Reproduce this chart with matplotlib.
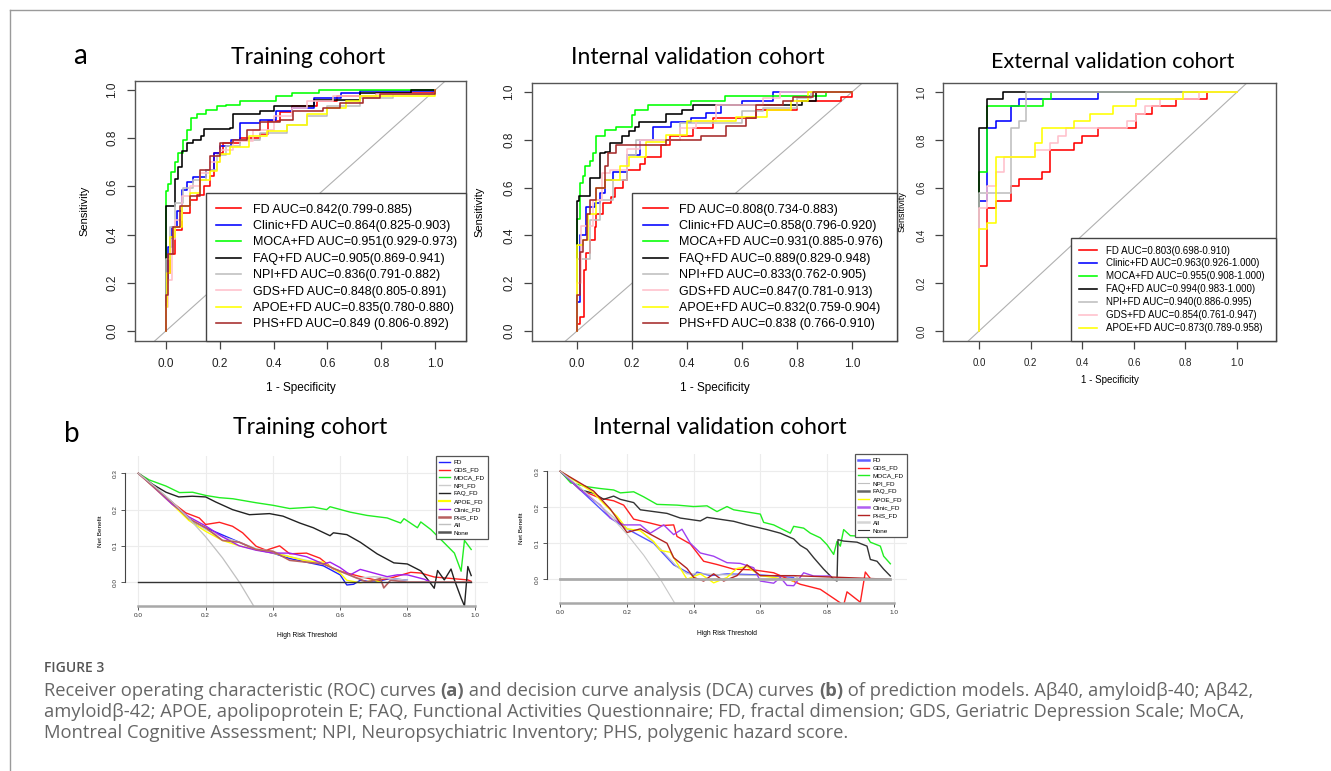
import matplotlib
matplotlib.use("Agg")
import matplotlib.pyplot as plt
from matplotlib.lines import Line2D

W, H = 1331, 771
RFONT = "Liberation Sans"
TFONT = "Lato"
CFONT = "Open Sans"

# ---------------- data ----------------
models = ["FD", "Clinic+FD", "MOCA+FD", "FAQ+FD", "NPI+FD", "GDS+FD", "APOE+FD", "PHS+FD"]
roc_colors = ["#ff0000", "#0000ff", "#00ff00", "#000000", "#bebebe", "#ffc0cb", "#ffff00", "#a52a2a"]
auc_tr = ["0.842(0.799-0.885)", "0.864(0.825-0.903)", "0.951(0.929-0.973)", "0.905(0.869-0.941)",
          "0.836(0.791-0.882)", "0.848(0.805-0.891)", "0.835(0.780-0.880)", "0.849 (0.806-0.892)"]
auc_in = ["0.808(0.734-0.883)", "0.858(0.796-0.920)", "0.931(0.885-0.976)", "0.889(0.829-0.948)",
          "0.833(0.762-0.905)", "0.847(0.781-0.913)", "0.832(0.759-0.904)", "0.838 (0.766-0.910)"]
auc_ex = ["0.803(0.698-0.910)", "0.963(0.926-1.000)", "0.955(0.908-1.000)", "0.994(0.983-1.000)",
          "0.940(0.886-0.995)", "0.854(0.761-0.947)", "0.873(0.789-0.958)"]

# Training ROC (1-specificity, sensitivity)
tr_fd_x = [0, 0, 0.005, 0.015, 0.033, 0.058, 0.09, 0.114, 0.14, 0.164, 0.18, 0.213, 0.275, 0.35, 0.38, 0.424, 0.47, 0.56, 0.634, 0.78, 1.0]
tr_fd_y = [0, 0.12, 0.24, 0.32, 0.42, 0.49, 0.545, 0.566, 0.6, 0.642, 0.74, 0.78, 0.80, 0.816, 0.87, 0.908, 0.933, 0.954, 0.975, 0.989, 1.0]
tr_clin_x = [0, 0, 0.009, 0.021, 0.04, 0.058, 0.077, 0.1, 0.15, 0.18, 0.2, 0.24, 0.275, 0.35, 0.41, 0.47, 0.55, 0.65, 0.72, 1.0]
tr_clin_y = [0, 0.2, 0.35, 0.43, 0.50, 0.587, 0.62, 0.64, 0.67, 0.74, 0.77, 0.795, 0.864, 0.878, 0.913, 0.927, 0.968, 0.99, 0.996, 1.0]
tr_moca_x = [0, 0, 0.009, 0.02, 0.033, 0.046, 0.064, 0.077, 0.093, 0.114, 0.15, 0.19, 0.225, 0.275, 0.325, 0.41, 0.47, 0.57, 1.0]
tr_moca_y = [0, 0.58, 0.61, 0.66, 0.70, 0.74, 0.795, 0.836, 0.885, 0.90, 0.917, 0.933, 0.94, 0.954, 0.957, 0.975, 0.99, 1.0, 1.0]
tr_faq_x = [0, 0, 0.015, 0.033, 0.045, 0.058, 0.077, 0.10, 0.13, 0.14, 0.238, 0.25, 0.35, 0.40, 0.55, 0.72, 0.91, 1.0]
tr_faq_y = [0, 0.52, 0.52, 0.63, 0.68, 0.746, 0.78, 0.795, 0.81, 0.84, 0.843, 0.90, 0.913, 0.936, 0.96, 0.99, 1.0, 1.0]
tr_npi_x = [0, 0, 0.015, 0.033, 0.064, 0.1, 0.15, 0.19, 0.225, 0.275, 0.35, 0.45, 0.523, 0.6, 0.72, 0.845, 1.0]
tr_npi_y = [0, 0.3, 0.43, 0.53, 0.594, 0.628, 0.67, 0.73, 0.767, 0.795, 0.822, 0.857, 0.892, 0.933, 0.968, 0.982, 1.0]
tr_gds_x = [0, 0, 0.009, 0.021, 0.033, 0.058, 0.09, 0.126, 0.164, 0.2, 0.25, 0.325, 0.4, 0.47, 0.523, 0.622, 0.78, 1.0]
tr_gds_y = [0, 0.1, 0.21, 0.38, 0.46, 0.56, 0.6, 0.656, 0.70, 0.753, 0.788, 0.836, 0.892, 0.927, 0.954, 0.975, 0.982, 1.0]
tr_apoe_x = [0, 0, 0.005, 0.015, 0.033, 0.058, 0.09, 0.126, 0.164, 0.19, 0.2, 0.238, 0.31, 0.374, 0.45, 0.523, 0.6, 0.67, 0.72, 1.0]
tr_apoe_y = [0, 0.1, 0.24, 0.39, 0.43, 0.517, 0.573, 0.628, 0.663, 0.70, 0.735, 0.764, 0.809, 0.83, 0.857, 0.90, 0.927, 0.954, 0.975, 1.0]
tr_phs_x = [0, 0, 0.009, 0.027, 0.052, 0.09, 0.126, 0.164, 0.2, 0.25, 0.3, 0.35, 0.424, 0.473, 0.585, 0.647, 0.734, 0.796, 1.0]
tr_phs_y = [0, 0.15, 0.32, 0.43, 0.517, 0.56, 0.67, 0.725, 0.78, 0.795, 0.836, 0.867, 0.878, 0.913, 0.927, 0.947, 0.968, 0.986, 1.0]

# Internal validation ROC
in_fd_x = [0, 0, 0.01, 0.025, 0.032, 0.046, 0.064, 0.07, 0.094, 0.125, 0.137, 0.167, 0.18, 0.228, 0.246, 0.306, 0.337, 0.42, 0.495, 0.652, 0.8, 0.96, 1.0]
in_fd_y = [0, 0.03, 0.06, 0.255, 0.325, 0.38, 0.437, 0.49, 0.535, 0.56, 0.598, 0.633, 0.675, 0.70, 0.73, 0.78, 0.815, 0.85, 0.89, 0.926, 0.961, 0.98, 1.0]
in_clin_x = [0, 0, 0.01, 0.034, 0.064, 0.082, 0.1, 0.13, 0.18, 0.228, 0.276, 0.343, 0.416, 0.47, 0.525, 0.6, 0.713, 1.0]
in_clin_y = [0, 0.12, 0.4, 0.52, 0.535, 0.577, 0.63, 0.667, 0.737, 0.80, 0.853, 0.873, 0.89, 0.912, 0.944, 0.964, 1.0, 1.0]
in_moca_x = [0, 0, 0.01, 0.022, 0.03, 0.046, 0.058, 0.068, 0.1, 0.143, 0.2, 0.21, 0.258, 0.416, 0.537, 0.907, 1.0]
in_moca_y = [0, 0.47, 0.62, 0.65, 0.69, 0.71, 0.744, 0.817, 0.84, 0.853, 0.905, 0.926, 0.944, 0.964, 0.982, 1.0, 1.0]
in_faq_x = [0, 0, 0.007, 0.046, 0.085, 0.1, 0.119, 0.165, 0.19, 0.21, 0.225, 0.325, 0.38, 0.42, 0.8, 0.82, 0.87, 1.0]
in_faq_y = [0, 0.546, 0.566, 0.64, 0.744, 0.75, 0.786, 0.818, 0.835, 0.853, 0.874, 0.909, 0.926, 0.947, 0.947, 0.964, 1.0, 1.0]
in_npi_x = [0, 0, 0.046, 0.082, 0.13, 0.18, 0.216, 0.373, 0.55, 0.6, 0.676, 0.8, 0.85, 1.0]
in_npi_y = [0, 0.3, 0.465, 0.55, 0.63, 0.737, 0.80, 0.87, 0.87, 0.92, 0.933, 0.975, 1.0, 1.0]
in_gds_x = [0, 0, 0.016, 0.058, 0.089, 0.119, 0.18, 0.228, 0.29, 0.373, 0.434, 0.507, 0.676, 0.74, 1.0]
in_gds_y = [0, 0.2, 0.44, 0.55, 0.66, 0.675, 0.76, 0.80, 0.80, 0.85, 0.877, 0.947, 0.975, 1.0, 1.0]
in_apoe_x = [0, 0, 0.0, 0.022, 0.04, 0.07, 0.1, 0.155, 0.19, 0.25, 0.325, 0.4, 0.58, 0.69, 0.78, 0.84, 1.0]
in_apoe_y = [0, 0.2, 0.36, 0.38, 0.49, 0.6, 0.63, 0.69, 0.73, 0.79, 0.82, 0.877, 0.894, 0.926, 0.961, 1.0, 1.0]
in_phs_x = [0, 0, 0.01, 0.022, 0.036, 0.046, 0.07, 0.1, 0.113, 0.143, 0.3, 0.325, 0.452, 0.543, 0.616, 0.65, 0.75, 0.785, 0.858, 1.0]
in_phs_y = [0, 0.15, 0.33, 0.38, 0.49, 0.55, 0.6, 0.69, 0.744, 0.78, 0.78, 0.8, 0.818, 0.856, 0.89, 0.947, 0.961, 0.98, 1.0, 1.0]

# External validation ROC
ex_fd_x = [0, 0, 0.031, 0.065, 0.125, 0.155, 0.245, 0.276, 0.367, 0.4, 0.461, 0.61, 0.67, 0.765, 0.884, 1.0]
ex_fd_y = [0, 0.272, 0.514, 0.546, 0.605, 0.636, 0.667, 0.758, 0.786, 0.817, 0.85, 0.909, 0.94, 0.97, 1.0, 1.0]
ex_clin_x = [0, 0, 0.031, 0.065, 0.125, 0.155, 0.461, 1.0]
ex_clin_y = [0, 0.546, 0.85, 0.88, 0.94, 0.97, 1.0, 1.0]
ex_moca_x = [0, 0, 0.031, 0.248, 0.28, 1.0]
ex_moca_y = [0, 0.667, 0.94, 0.97, 1.0, 1.0]
ex_faq_x = [0, 0, 0, 0.031, 0.093, 1.0]
ex_faq_y = [0, 0.58, 0.85, 0.97, 1.0, 1.0]
ex_npi_x = [0, 0, 0.125, 0.155, 0.183, 1.0]
ex_npi_y = [0, 0.577, 0.85, 0.88, 1.0, 1.0]
ex_gds_x = [0, 0, 0, 0.031, 0.065, 0.096, 0.216, 0.276, 0.306, 0.338, 0.574, 0.61, 0.642, 0.7, 0.853, 1.0]
ex_gds_y = [0, 0.427, 0.514, 0.605, 0.667, 0.727, 0.758, 0.786, 0.817, 0.85, 0.88, 0.909, 0.94, 0.97, 1.0, 1.0]
ex_apoe_x = [0, 0, 0.031, 0.065, 0.216, 0.245, 0.367, 0.43, 0.52, 0.61, 0.79, 1.0]
ex_apoe_y = [0, 0.427, 0.454, 0.727, 0.786, 0.85, 0.88, 0.909, 0.94, 0.97, 1.0, 1.0]

# DCA
dca_names = ["FD", "GDS_FD", "MOCA_FD", "NPI_FD", "FAQ_FD", "APOE_FD", "Clinic_FD", "PHS_FD", "All", "None"]
# colours/widths of the drawn curves
dca_tr_colors = ["#2020ff", "#ff2020", "#22ee22", "#c8c8c8", "#222222", "#ffff00", "#a020f0", "#b86060", "#c0c0c0", "#333333"]
dca_tr_widths = [1.0, 1.0, 1.0, 1.0, 1.0, 1.0, 1.0, 1.2, 0.9, 1.0]
dca_in_colors = ["#5555ff", "#ff2020", "#22ee22", "#c0c0c0", "#333333", "#ffff00", "#a040f0", "#b22222", "#c8c8c8", "#aaaaaa"]
dca_in_widths = [1.0, 1.0, 1.0, 0.8, 1.0, 1.0, 1.0, 1.0, 0.8, 2.0]
# colours/widths shown in the legends
leg_tr_colors = ["#2020ff", "#ff2020", "#22ee22", "#cccccc", "#222222", "#ffff00", "#a020f0", "#b86060", "#c0c0c0", "#555555"]
leg_tr_widths = [1.0, 1.0, 1.0, 1.0, 1.0, 1.6, 1.0, 1.8, 1.0, 1.8]
leg_in_colors = ["#6060ff", "#ff2020", "#22ee22", "#c0c0c0", "#666666", "#ffff00", "#b060f0", "#b22222", "#d5d5d5", "#333333"]
leg_in_widths = [1.8, 1.0, 1.0, 0.8, 1.8, 1.0, 1.8, 1.0, 1.8, 0.8]

all_x = [0, 0.05, 0.1, 0.15, 0.2, 0.25, 0.3, 0.35]
all_y = [0.3, 0.263, 0.222, 0.176, 0.125, 0.067, 0.0, -0.077]
none_x = [0, 0.99]
none_y = [0, 0]

dtr_fd_x = [0, 0.05, 0.1, 0.16, 0.2, 0.25, 0.3, 0.35, 0.4, 0.45, 0.5, 0.55, 0.6, 0.62, 0.64, 0.66, 0.7, 0.75, 0.8]
dtr_fd_y = [0.3, 0.26, 0.22, 0.165, 0.15, 0.13, 0.11, 0.09, 0.08, 0.065, 0.055, 0.045, 0.02, -0.008, -0.006, 0.005, 0.0, 0.01, 0.005]
dtr_gds_x = [0, 0.082, 0.141, 0.181, 0.2, 0.241, 0.28, 0.31, 0.35, 0.38, 0.42, 0.45, 0.5, 0.54, 0.58, 0.62, 0.67, 0.71, 0.75, 0.81, 0.84, 0.88, 0.98, 0.99]
dtr_gds_y = [0.3, 0.233, 0.191, 0.177, 0.159, 0.165, 0.154, 0.136, 0.099, 0.088, 0.1, 0.078, 0.08, 0.066, 0.036, 0.025, 0.013, 0.005, 0.011, 0.027, 0.025, 0.014, 0.006, 0.002]
dtr_moca_x = [0, 0.032, 0.082, 0.122, 0.161, 0.201, 0.241, 0.281, 0.35, 0.4, 0.45, 0.52, 0.56, 0.57, 0.63, 0.68, 0.74, 0.78, 0.79, 0.83, 0.84, 0.87, 0.91, 0.94, 0.96, 0.97, 0.99]
dtr_moca_y = [0.3, 0.282, 0.265, 0.247, 0.248, 0.239, 0.233, 0.23, 0.219, 0.212, 0.203, 0.207, 0.2, 0.208, 0.193, 0.184, 0.177, 0.163, 0.175, 0.15, 0.166, 0.145, 0.108, 0.08, 0.03, 0.115, 0.09]
dtr_npi_x = [0, 0.1, 0.15, 0.2, 0.25, 0.3, 0.35, 0.4, 0.45, 0.5, 0.55, 0.6, 0.65, 0.7, 0.75, 0.8]
dtr_npi_y = [0.3, 0.22, 0.175, 0.145, 0.125, 0.11, 0.092, 0.085, 0.07, 0.06, 0.05, 0.03, 0.01, 0.015, 0.01, 0.005]
dtr_faq_x = [0, 0.042, 0.082, 0.12, 0.16, 0.2, 0.23, 0.28, 0.33, 0.39, 0.43, 0.48, 0.52, 0.57, 0.58, 0.62, 0.66, 0.71, 0.76, 0.8, 0.84, 0.86, 0.88, 0.89, 0.91, 0.93, 0.94, 0.96, 0.97, 0.98, 0.99]
dtr_faq_y = [0.3, 0.27, 0.248, 0.235, 0.237, 0.235, 0.221, 0.2, 0.186, 0.189, 0.182, 0.163, 0.15, 0.128, 0.136, 0.131, 0.11, 0.078, 0.053, 0.05, 0.031, 0.008, -0.017, 0.032, 0.006, 0.036, 0.006, -0.044, -0.066, 0.043, 0.018]
dtr_apoe_x = [0, 0.1, 0.15, 0.2, 0.25, 0.3, 0.35, 0.4, 0.45, 0.5, 0.55, 0.6, 0.62, 0.66, 0.7, 0.72]
dtr_apoe_y = [0.3, 0.215, 0.17, 0.14, 0.115, 0.1, 0.09, 0.08, 0.07, 0.058, 0.055, 0.025, 0.005, -0.002, 0.005, 0.0]
dtr_clin_x = [0, 0.05, 0.1, 0.15, 0.18, 0.2, 0.25, 0.3, 0.35, 0.4, 0.45, 0.5, 0.55, 0.57, 0.6, 0.63, 0.66, 0.7, 0.74, 0.77, 0.8, 0.85, 0.87]
dtr_clin_y = [0.3, 0.258, 0.215, 0.18, 0.165, 0.155, 0.125, 0.1, 0.088, 0.08, 0.08, 0.07, 0.05, 0.055, 0.04, 0.02, 0.035, 0.025, 0.015, 0.02, 0.02, 0.008, 0.0]
dtr_phs_x = [0, 0.1, 0.15, 0.2, 0.25, 0.3, 0.35, 0.4, 0.45, 0.5, 0.55, 0.6, 0.64, 0.68, 0.72, 0.73, 0.75, 0.8, 0.99]
dtr_phs_y = [0.3, 0.22, 0.175, 0.15, 0.115, 0.11, 0.09, 0.085, 0.06, 0.055, 0.05, 0.03, 0.015, 0.0, 0.01, -0.016, 0.005, 0.0, 0.0]

din_fd_x = [0, 0.15, 0.2, 0.28, 0.34, 0.4, 0.41, 0.45, 0.5, 0.6, 0.7]
din_fd_y = [0.3, 0.17, 0.14, 0.1, 0.04, 0.01, 0.02, 0.01, 0.015, 0.012, 0.005]
din_gds_x = [0, 0.061, 0.12, 0.16, 0.19, 0.22, 0.27, 0.3, 0.34, 0.35, 0.39, 0.43, 0.47, 0.52, 0.58, 0.64, 0.68, 0.72, 0.78, 0.82, 0.85, 0.86, 0.9, 0.915, 0.93]
din_gds_y = [0.3, 0.248, 0.225, 0.218, 0.206, 0.167, 0.156, 0.149, 0.151, 0.119, 0.098, 0.05, 0.041, 0.028, 0.026, 0.018, 0.002, -0.014, -0.028, -0.053, -0.072, -0.035, -0.064, 0.02, 0.002]
din_moca_x = [0, 0.031, 0.081, 0.12, 0.16, 0.18, 0.22, 0.25, 0.29, 0.35, 0.4, 0.44, 0.47, 0.5, 0.52, 0.6, 0.61, 0.64, 0.69, 0.7, 0.73, 0.75, 0.78, 0.8, 0.82, 0.83, 0.84, 0.85, 0.87, 0.92, 0.93, 0.96, 0.97, 0.99]
din_moca_y = [0.3, 0.268, 0.257, 0.252, 0.248, 0.24, 0.243, 0.229, 0.208, 0.206, 0.202, 0.204, 0.188, 0.202, 0.193, 0.181, 0.158, 0.151, 0.128, 0.147, 0.142, 0.128, 0.115, 0.096, 0.069, 0.105, 0.092, 0.138, 0.121, 0.119, 0.103, 0.092, 0.064, 0.043]
din_npi_x = [0, 0.15, 0.2, 0.24, 0.3, 0.35, 0.38, 0.43, 0.5, 0.6, 0.7, 0.72]
din_npi_y = [0.3, 0.18, 0.14, 0.135, 0.085, 0.035, 0.015, 0.015, 0.012, 0.01, 0.01, 0.0]
din_faq_x = [0, 0.031, 0.061, 0.1, 0.13, 0.16, 0.18, 0.22, 0.24, 0.28, 0.32, 0.36, 0.42, 0.44, 0.52, 0.56, 0.62, 0.66, 0.7, 0.72, 0.74, 0.76, 0.79, 0.82, 0.83, 0.833, 0.85, 0.89, 0.92, 0.93, 0.95, 0.97, 0.99]
din_faq_y = [0.3, 0.275, 0.248, 0.239, 0.222, 0.231, 0.222, 0.213, 0.193, 0.188, 0.183, 0.17, 0.162, 0.172, 0.161, 0.151, 0.138, 0.128, 0.112, 0.094, 0.083, 0.06, 0.028, 0.0, -0.005, 0.11, 0.106, 0.103, 0.092, 0.055, 0.05, 0.028, 0.009]
din_apoe_x = [0, 0.1, 0.13, 0.17, 0.2, 0.24, 0.28, 0.3, 0.33, 0.36, 0.38, 0.42, 0.46, 0.5, 0.53, 0.56, 0.6, 0.68, 0.7]
din_apoe_y = [0.3, 0.24, 0.21, 0.175, 0.14, 0.135, 0.105, 0.08, 0.075, 0.03, 0.0, 0.015, -0.01, 0.005, 0.03, 0.035, 0.01, 0.0, -0.005]
din_clin_x = [0, 0.061, 0.12, 0.15, 0.19, 0.24, 0.27, 0.31, 0.34, 0.365, 0.39, 0.42, 0.46, 0.5, 0.54, 0.58, 0.6, 0.64, 0.66, 0.68, 0.7, 0.73, 0.76, 0.81]
din_clin_y = [0.3, 0.248, 0.206, 0.17, 0.151, 0.151, 0.128, 0.151, 0.124, 0.139, 0.1, 0.073, 0.064, 0.046, 0.044, 0.032, -0.005, -0.011, 0.005, -0.017, -0.018, 0.018, 0.009, 0.009]
din_phs_x = [0, 0.1, 0.15, 0.2, 0.24, 0.28, 0.3, 0.32, 0.34, 0.38, 0.4, 0.43, 0.46, 0.49, 0.53, 0.56, 0.6, 0.7, 0.99]
din_phs_y = [0.3, 0.245, 0.195, 0.13, 0.14, 0.12, 0.11, 0.1, 0.06, 0.03, 0.005, -0.005, 0.015, -0.005, 0.01, 0.04, 0.01, 0.01, 0.0]

roc_tick_vals = [0.0, 0.2, 0.4, 0.6, 0.8, 1.0]
roc_tick_labels = ["0.0", "0.2", "0.4", "0.6", "0.8", "1.0"]
dca_xtick_vals = [0.0, 0.2, 0.4, 0.6, 0.8, 1.0]
dca_ytick_vals = [0.0, 0.1, 0.2, 0.3]

# ---------------- figure ----------------
fig = plt.figure(figsize=(W / 100, H / 100), dpi=100)


def add_ax(l, t, r, b):
    return fig.add_axes([l / W, 1 - b / H, (r - l) / W, (b - t) / H])


def ftext(x, y, s, **kw):
    return fig.text(x / W, 1 - y / H, s, **kw)


# frame lines
fig.add_artist(Line2D([10 / W, 1], [1 - 10 / H, 1 - 10 / H], color="#9a9a9a", lw=1.0))
fig.add_artist(Line2D([10 / W, 10 / W], [1 - 10 / H, 0], color="#9a9a9a", lw=1.0))


def roc_panel(box, xlim, curves, labels, fs_tick, fs_lab, fs_leg, leg_x0, leg_pad, leg_space,
              ylab_x, xlab_y, handlelen):
    ax = add_ax(*box)
    ax.plot([-2, 3], [-2, 3], color="#b0b0b0", lw=0.8, zorder=1)
    for (xs, ys), col, lab in zip(curves, roc_colors, labels):
        ax.plot(xs, ys, drawstyle="steps-post", color=col, lw=1.15, label=lab, zorder=2)
    ax.set_xlim(*xlim)
    ax.set_ylim(-0.042, 1.038)
    ax.set_xticks(roc_tick_vals)
    ax.set_xticklabels(roc_tick_labels, fontsize=fs_tick, family=RFONT, color="#222222")
    ax.set_yticks(roc_tick_vals)
    ax.set_yticklabels(roc_tick_labels, fontsize=fs_tick, family=RFONT, color="#222222",
                       rotation=90, va="center", ha="right")
    ax.tick_params(direction="out", length=6, width=0.9, color="#444444", pad=6)
    for sp in ax.spines.values():
        sp.set_color("#555555")
        sp.set_linewidth(1.0)
    ax.set_ylabel("Sensitivity", fontsize=fs_lab, family=RFONT)
    ax.yaxis.set_label_coords(ylab_x, 0.5)
    ax.set_xlabel("1 - Specificity", fontsize=fs_lab + 0.5, family=RFONT)
    ax.xaxis.set_label_coords(0.5, xlab_y)
    leg = ax.legend(loc="lower left", bbox_to_anchor=(leg_x0, 0, 1 - leg_x0, 1), mode="expand",
                    borderaxespad=0, fancybox=False, edgecolor="#444444", framealpha=1,
                    prop={"family": RFONT, "size": fs_leg}, borderpad=leg_pad,
                    labelspacing=leg_space, handlelength=handlelen, handletextpad=0.9)
    leg.get_frame().set_linewidth(1.0)
    leg.set_zorder(5)
    return ax


tr_curves = [(tr_fd_x, tr_fd_y), (tr_clin_x, tr_clin_y), (tr_moca_x, tr_moca_y), (tr_faq_x, tr_faq_y),
             (tr_npi_x, tr_npi_y), (tr_gds_x, tr_gds_y), (tr_apoe_x, tr_apoe_y), (tr_phs_x, tr_phs_y)]
in_curves = [(in_fd_x, in_fd_y), (in_clin_x, in_clin_y), (in_moca_x, in_moca_y), (in_faq_x, in_faq_y),
             (in_npi_x, in_npi_y), (in_gds_x, in_gds_y), (in_apoe_x, in_apoe_y), (in_phs_x, in_phs_y)]
ex_curves = [(ex_fd_x, ex_fd_y), (ex_clin_x, ex_clin_y), (ex_moca_x, ex_moca_y), (ex_faq_x, ex_faq_y),
             (ex_npi_x, ex_npi_y), (ex_gds_x, ex_gds_y), (ex_apoe_x, ex_apoe_y)]

roc_panel((135, 81, 466, 341), (-0.115, 1.115), tr_curves,
          [f"{m} AUC={a}" for m, a in zip(models, auc_tr)],
          8.5, 8, 9, 0.2136, 0.85, 0.35, -0.136, -0.158, 2.0)
roc_panel((532, 83, 897, 341), (-0.164, 1.164), in_curves,
          [f"{m} AUC={a}" for m, a in zip(models, auc_in)],
          8.5, 8, 9, 0.274, 0.85, 0.35, -0.129, -0.158, 2.0)
roc_panel((943, 83, 1276, 341), (-0.14, 1.151), ex_curves,
          [f"{m} AUC={a}" for m, a in zip(models, auc_ex)],
          7, 6.5, 7, 0.384, 0.82, 0.3, -0.108, -0.13, 1.85)


def dca_panel(box, curves, colors, widths, lcolors, lwidths, ylab_x, xlab_y):
    ax = add_ax(*box)
    for v in dca_xtick_vals:
        ax.axvline(v, color="#ececec", lw=0.8, zorder=0)
    for v in dca_ytick_vals:
        ax.axhline(v, color="#ececec", lw=0.8, zorder=0)
    for (xs, ys), col, lw in zip(curves, colors, widths):
        ax.plot(xs, ys, color=col, lw=lw, zorder=2)
    ax.set_xlim(-0.04, 1.04)
    ax.set_ylim(-0.066, 0.348)
    ax.set_xticks(dca_xtick_vals)
    ax.set_xticklabels([f"{v:.1f}" for v in dca_xtick_vals], fontsize=4.6, family=RFONT, color="#333333")
    ax.set_yticks(dca_ytick_vals)
    ax.set_yticklabels([f"{v:.1f}" for v in dca_ytick_vals], fontsize=4.6, family=RFONT, color="#333333",
                       rotation=90, va="center", ha="right")
    ax.tick_params(direction="out", length=3, width=0.7, color="#555555", pad=2)
    ax.spines["top"].set_visible(False)
    ax.spines["right"].set_visible(False)
    ax.spines["left"].set_bounds(0, 0.3)
    ax.spines["left"].set_color("#444444")
    ax.spines["left"].set_linewidth(0.8)
    ax.spines["bottom"].set_bounds(0, 1)
    ax.spines["bottom"].set_color("#a8a8a8")
    ax.spines["bottom"].set_linewidth(1.8)
    ax.set_ylabel("Net Benefit", fontsize=4.6, family=RFONT)
    ax.yaxis.set_label_coords(ylab_x, 0.5)
    ax.set_xlabel("High Risk Threshold", fontsize=4.8, family=RFONT)
    ax.xaxis.set_label_coords(0.5, xlab_y)
    handles = [Line2D([], [], color=c, lw=w) for c, w in zip(lcolors, lwidths)]
    leg = ax.legend(handles, dca_names, loc="upper right", borderaxespad=0, fancybox=False,
                    edgecolor="#555555", framealpha=1, prop={"family": RFONT, "size": 4.6},
                    borderpad=0.55, labelspacing=0.37, handlelength=1.7, handletextpad=0.55)
    leg.get_frame().set_linewidth(0.9)
    return ax


dtr_curves = [(dtr_fd_x, dtr_fd_y), (dtr_gds_x, dtr_gds_y), (dtr_moca_x, dtr_moca_y), (dtr_npi_x, dtr_npi_y),
              (dtr_faq_x, dtr_faq_y), (dtr_apoe_x, dtr_apoe_y), (dtr_clin_x, dtr_clin_y), (dtr_phs_x, dtr_phs_y),
              (all_x, all_y), (none_x, none_y)]
din_curves = [(din_fd_x, din_fd_y), (din_gds_x, din_gds_y), (din_moca_x, din_moca_y), (din_npi_x, din_npi_y),
              (din_faq_x, din_faq_y), (din_apoe_x, din_apoe_y), (din_clin_x, din_clin_y), (din_phs_x, din_phs_y),
              (all_x, all_y), (none_x, none_y)]

dca_panel((125, 456, 488, 606), dtr_curves, dca_tr_colors, dca_tr_widths, leg_tr_colors, leg_tr_widths,
          -0.061, -0.173)
dca_panel((547, 454, 907, 603), din_curves, dca_in_colors, dca_in_widths, leg_in_colors, leg_in_widths,
          -0.064, -0.18)

# titles and panel letters
ftext(308, 58, "Training cohort", fontsize=16.5, family=TFONT, ha="center", va="center")
ftext(698, 58, "Internal validation cohort", fontsize=16.5, family=TFONT, ha="center", va="center")
ftext(1113, 62, "External validation cohort", fontsize=15.5, family=TFONT, ha="center", va="center")
ftext(310, 428, "Training cohort", fontsize=16.5, family=TFONT, ha="center", va="center")
ftext(720, 428, "Internal validation cohort", fontsize=16.5, family=TFONT, ha="center", va="center")
ftext(80, 56, "a", fontsize=20, family=TFONT, ha="center", va="center")
ftext(72, 434, "b", fontsize=20, family=TFONT, ha="center", va="center")

# caption
ftext(44, 668, "FIGURE 3", fontsize=10, family=CFONT, weight="semibold", color="#555555",
      ha="left", va="center")

renderer = fig.canvas.get_renderer()


def piece_width(s, size, weight):
    a = fig.text(0, 0, "|" + s + "|", fontsize=size, family=CFONT, weight=weight)
    b = fig.text(0, 0, "||", fontsize=size, family=CFONT, weight=weight)
    w = a.get_window_extent(renderer).width - b.get_window_extent(renderer).width
    a.remove()
    b.remove()
    return w


def rich_line(x, y, parts, size=13.2, color="#666666"):
    for s, wt in parts:
        ftext(x, y, s, fontsize=size, family=CFONT, weight=wt, color=color, ha="left", va="center")
        x += piece_width(s, size, wt)


cap1 = [("Receiver operating characteristic (ROC) curves ", "normal"), ("(a)", "bold"),
        (" and decision curve analysis (DCA) curves ", "normal"), ("(b)", "bold"),
        (" of prediction models. A\u03b240, amyloid\u03b2-40; A\u03b242,", "normal")]
cap2 = [("amyloid\u03b2-42; APOE, apolipoprotein E; FAQ, Functional Activities Questionnaire; FD, fractal "
         "dimension; GDS, Geriatric Depression Scale; MoCA,", "normal")]
cap3 = [("Montreal Cognitive Assessment; NPI, Neuropsychiatric Inventory; PHS, polygenic hazard score.", "normal")]
rich_line(44, 691, cap1)
rich_line(44, 712, cap2)
rich_line(44, 733, cap3)

fig.savefig("out.png", dpi=100)
